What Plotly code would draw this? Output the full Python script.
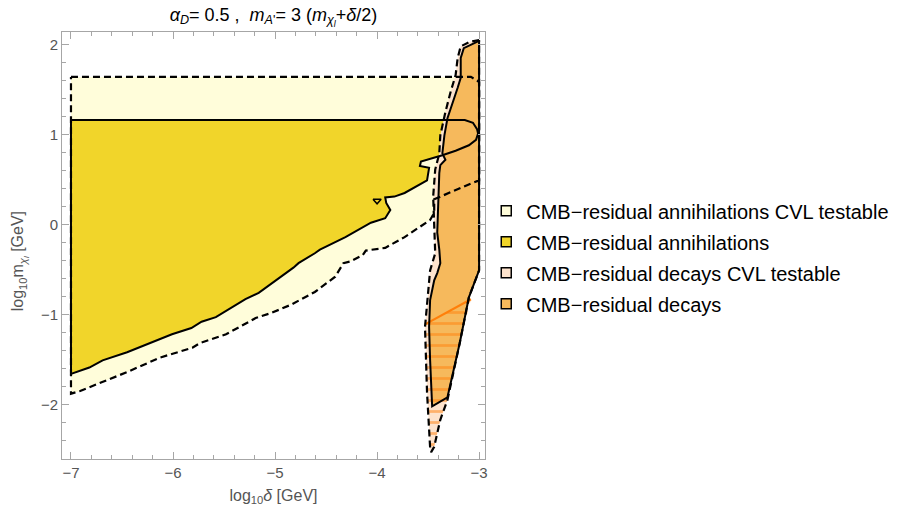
import plotly.graph_objects as go

# ---- Data (x = log10 delta [GeV], y = log10 m_chi [GeV]) ----
# CMB-residual annihilations, CVL testable (light yellow, dashed outline)
ann_cvl_x = [-7.0, -3.08, -3.02, -3.0, -3.0, -3.07, -3.44, -3.44, -3.48, -3.60, -3.73, -3.92,
             -4.11, -4.14, -4.26, -4.33, -4.41, -4.61, -4.84, -5.03, -5.19, -5.48, -5.74,
             -5.81, -6.13, -6.45, -6.69, -6.91, -7.0, -7.0]
ann_cvl_y = [1.64, 1.64, 1.60, 1.58, 0.49, 0.46, 0.28, 0.13, 0.05, -0.04, -0.14, -0.26,
             -0.29, -0.34, -0.41, -0.43, -0.58, -0.75, -0.89, -0.98, -1.04, -1.22, -1.32,
             -1.37, -1.48, -1.64, -1.75, -1.85, -1.88, 1.64]

# CMB-residual annihilations (gold, solid outline)
ann_x = [-7.0, -3.14, -3.06, -3.02, -3.01, -3.03, -3.10, -3.23, -3.36, -3.39, -3.48, -3.57,
         -3.58, -3.49, -3.51, -3.60, -3.73, -3.83, -3.92, -3.91, -3.87, -3.92, -4.06, -4.31,
         -4.56, -4.61, -4.77, -4.82, -5.03, -5.16, -5.29, -5.42, -5.58, -5.72, -5.82, -6.01,
         -6.20, -6.45, -6.69, -6.82, -7.0, -7.0]
ann_y = [1.16, 1.16, 1.13, 1.06, 1.01, 0.94, 0.88, 0.82, 0.77, 0.76, 0.73, 0.70,
         0.65, 0.63, 0.49, 0.43, 0.35, 0.31, 0.30, 0.24, 0.16, 0.07, 0.02, -0.14,
         -0.28, -0.32, -0.43, -0.48, -0.65, -0.76, -0.83, -0.92, -1.03, -1.08, -1.15, -1.22,
         -1.31, -1.42, -1.51, -1.59, -1.66, 1.16]

# small isolated island of the annihilation region
island_x = [-4.04, -3.96, -4.00, -4.04]
island_y = [0.28, 0.28, 0.23, 0.28]

# CMB-residual decays, CVL testable (peach, dashed outline)
dec_cvl_x = [-3.0, -3.09, -3.18, -3.21, -3.23, -3.28, -3.33, -3.38, -3.39, -3.43, -3.45,
             -3.44, -3.43, -3.48, -3.51, -3.53, -3.51, -3.49, -3.48, -3.47, -3.44, -3.38,
             -3.31, -3.19, -3.10, -3.0, -3.0]
dec_cvl_y = [2.05, 2.03, 1.98, 1.85, 1.66, 1.47, 1.25, 0.99, 0.79, 0.61, 0.31,
             0.05, -0.32, -0.51, -0.95, -1.14, -1.87, -2.25, -2.48, -2.53, -2.47, -2.17,
             -1.95, -1.32, -0.81, -0.51, 2.05]

# CMB-residual decays (orange, solid outline)
dec_x = [-3.0, -3.15, -3.18, -3.18, -3.21, -3.26, -3.31, -3.34, -3.36, -3.33, -3.38, -3.39,
         -3.40, -3.41, -3.39, -3.38, -3.41, -3.44, -3.48, -3.49, -3.48, -3.46, -3.31, -3.19,
         -3.10, -3.0, -3.0]
dec_y = [2.04, 1.96, 1.85, 1.63, 1.52, 1.36, 1.18, 0.99, 0.79, 0.72, 0.66, 0.57,
         0.19, -0.09, -0.28, -0.43, -0.54, -0.62, -0.84, -1.14, -1.51, -2.02, -1.92, -1.32,
         -0.81, -0.51, 2.04]

# hatched sub-region
hatch_x = [-3.53, -3.08, -3.19, -3.31, -3.38, -3.44, -3.48, -3.49, -3.51, -3.53]
hatch_y = [-1.11, -0.83, -1.32, -1.95, -2.17, -2.47, -2.48, -2.25, -1.87, -1.11]

legend_names = ["CMB\u2212residual annihilations CVL testable",
                "CMB\u2212residual annihilations",
                "CMB\u2212residual decays CVL testable",
                "CMB\u2212residual decays"]

x_ticks = [-7, -6, -5, -4, -3]
y_ticks = [-2, -1, 0, 1, 2]

# ---- styles ----
C_LY = "#FFFDDA"
C_GOLD = "#F1D52A"
C_PEACH = "#FDE3CD"
C_ORANGE = "#F6B95C"
C_HATCH = "#FF7F0A"
DASH = "7px,4px"
FONT = "Liberation Sans, Arial, sans-serif"
GRAY_TXT = "#555555"

fig = go.Figure()

def fill_trace(x, y, color):
    fig.add_trace(go.Scatter(x=x, y=y, mode="lines", fill="toself", fillcolor=color,
                             line=dict(width=0, color=color), hoverinfo="skip",
                             showlegend=False))

def outline(x, y, dash, color="black", width=2):
    fig.add_trace(go.Scatter(x=x, y=y, mode="lines",
                             line=dict(color=color, width=width, dash=dash),
                             hoverinfo="skip", showlegend=False))

# fills
fill_trace(ann_cvl_x, ann_cvl_y, C_LY)
fill_trace(ann_x, ann_y, C_GOLD)
fill_trace(dec_cvl_x, dec_cvl_y, C_PEACH)
fill_trace(dec_x, dec_y, C_ORANGE)

# hatch
fig.add_trace(go.Scatter(x=hatch_x, y=hatch_y, mode="lines", fill="toself",
                         fillcolor="rgba(0,0,0,0)",
                         fillpattern=dict(shape="-", fgcolor=C_HATCH, bgcolor="rgba(0,0,0,0)",
                                          size=11, solidity=0.25, fillmode="overlay"),
                         line=dict(width=0), hoverinfo="skip", showlegend=False))
outline(hatch_x[:2], hatch_y[:2], "solid", color=C_HATCH, width=2.2)

# outlines
outline(ann_cvl_x, ann_cvl_y, DASH, width=2.2)
outline(ann_x, ann_y, "solid")
fig.add_trace(go.Scatter(x=island_x, y=island_y, mode="lines", fill="toself",
                         fillcolor=C_GOLD, line=dict(color="black", width=1.5),
                         hoverinfo="skip", showlegend=False))
outline(dec_cvl_x, dec_cvl_y, DASH, width=2.2)
outline(dec_x, dec_y, "solid")

# legend entries
for name, col in zip(legend_names, [C_LY, C_GOLD, C_PEACH, C_ORANGE]):
    fig.add_trace(go.Scatter(x=[None], y=[None], mode="markers", name=name,
                             legendgroup=name,
                             marker=dict(symbol="square", size=10, color=col,
                                         line=dict(color="black", width=1.5))))

axis_common = dict(
    showgrid=False, zeroline=False, showline=True, linecolor="#A6A6A6", linewidth=1,
    mirror="allticks", ticks="inside", ticklen=7, tickcolor="#A6A6A6", tickwidth=1,
    tickfont=dict(family=FONT, size=15, color=GRAY_TXT),
    minor=dict(dtick=0.2, ticks="inside", ticklen=4, tickcolor="#A6A6A6", tickwidth=1),
)

fig.update_xaxes(range=[-7.088, -2.942], tickvals=x_ticks,
                 title=dict(text="log<sub>10</sub><i>δ</i> [GeV]",
                            font=dict(family=FONT, size=16, color=GRAY_TXT), standoff=9),
                 **axis_common)
fig.update_yaxes(range=[-2.606, 2.139], tickvals=y_ticks, **axis_common)

fig.update_layout(
    width=906, height=514,
    margin=dict(l=62, r=418, t=32, b=55),
    paper_bgcolor="white", plot_bgcolor="white",
    font=dict(family=FONT),
    title=dict(text="<i>α</i><sub><i>D</i></sub>= 0.5 ,  <i>m</i><sub><i>A</i>'</sub>= 3 "
                    "(<i>m</i><sub><i>χ</i></sub><sub><sub><i>l</i></sub></sub>+<i>δ</i>/2)",
               x=0.5, xref="paper", xanchor="center", y=0.972, yref="container",
               yanchor="middle", font=dict(family=FONT, size=18, color="black")),
    legend=dict(x=1.003, xanchor="left", y=0.627, yanchor="top",
                font=dict(family=FONT, size=20, color="black"),
                bgcolor="rgba(0,0,0,0)", tracegroupgap=2, itemsizing="trace"),
    annotations=[dict(text="log<sub>10</sub>m<sub><i>χ</i></sub><sub><sub><i>l</i></sub></sub> [GeV]",
                      textangle=-90, xref="paper", yref="paper",
                      x=-0.0986, y=0.4637, xanchor="center", yanchor="middle",
                      showarrow=False, font=dict(family=FONT, size=16, color=GRAY_TXT))],
)

fig.write_html("out.html")
